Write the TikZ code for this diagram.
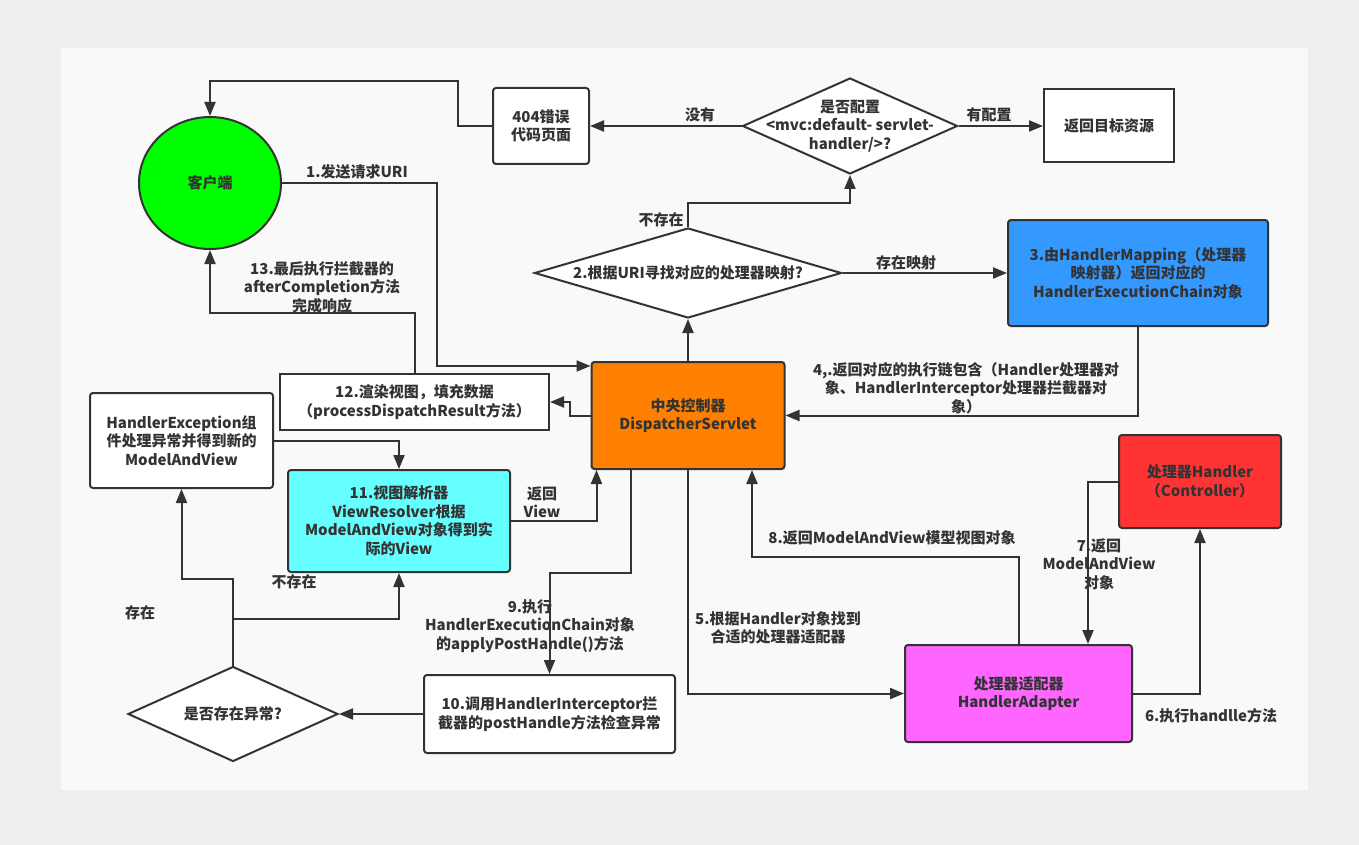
\documentclass[tikz,border=0pt]{standalone}
\usepackage{fontspec}
\setmainfont{Noto Sans CJK SC}
\usetikzlibrary{arrows.meta,calc,shapes.geometric}
\definecolor{ink}{HTML}{333333}
\definecolor{page}{HTML}{EEEEEE}
\definecolor{panel}{HTML}{F9F9F9}
\definecolor{cgreen}{HTML}{00FF00}
\definecolor{cblue}{HTML}{3399FF}
\definecolor{corange}{HTML}{FF8000}
\definecolor{ccyan}{HTML}{66FFFF}
\definecolor{cpink}{HTML}{FF66FF}
\definecolor{cred}{HTML}{FF3333}
\tikzset{
  txt/.style={font=\fontsize{15}{18.5}\selectfont\bfseries,text=ink,align=center,inner sep=0pt},
  box/.style={draw=ink,fill=#1,line width=2pt,rounded corners=3pt,txt},
  box/.default=white,
  sqbox/.style={draw=ink,fill=white,line width=2pt,txt},
  decision/.style={diamond,draw=ink,fill=white,line width=2pt,inner sep=0pt},
  flow/.style={-{Triangle[length=14pt,width=11pt]},line width=2pt,draw=ink},
  lbl/.style={txt}
}
\begin{document}
\begin{tikzpicture}[x=1pt,y=-1pt]
    \useasboundingbox (0,0) rectangle (1359,845);
    \fill[page] (0,0) rectangle (1359,845);
    \fill[panel] (61,48) rectangle (1308,790);

    \node[ellipse,draw=ink,fill=cgreen,line width=2pt,txt,minimum width=142,minimum height=132] (client) at (210,183) {客户端};
    \node[box,minimum width=96,minimum height=76] (e404) at (541,126) {404错误\\代码页面};
    \node[decision,minimum width=215,minimum height=96] (cfg) at (850,126) {};
    \node[txt] (cfgtext) at (cfg) {是否配置\\<mvc:default- servlet-\\handler/>?};
    \node[sqbox,minimum width=130,minimum height=73] (target) at (1109,126) {返回目标资源};
    \node[decision,minimum width=307,minimum height=90] (map) at (688,273) {};
    \node[txt] (maptext) at (map) {2.根据URI寻找对应的处理器映射?};
    \node[box=cblue,minimum width=260,minimum height=106] (mapping) at (1138,273) {3.由HandlerMapping（处理器\\映射器）返回对应的\\HandlerExecutionChain对象};
    \node[box=corange,minimum width=193,minimum height=107] (disp) at (688,415.5) {中央控制器\\DispatcherServlet};
    \node[sqbox,minimum width=269,minimum height=56] (render) at (414.5,402) {12.渲染视图，填充数据\\（processDispatchResult方法）};
    \node[box,minimum width=183,minimum height=95] (hexc) at (181.5,440.5) {HandlerException组\\件处理异常并得到新的\\ModelAndView};
    \node[box=ccyan,minimum width=222,minimum height=102] (resolver) at (399,521) {11.视图解析器\\ViewResolver根据\\ModelAndView对象得到实\\际的View};
    \node[decision,minimum width=210,minimum height=95] (excdec) at (233,714) {};
    \node[txt] (exctext) at (excdec) {是否存在异常?};
    \node[box,minimum width=251,minimum height=78] (post) at (549.5,714) {10.调用HandlerInterceptor拦\\截器的postHandle方法检查异常};
    \node[box=cpink,minimum width=227,minimum height=97] (adapter) at (1018.5,693.5) {处理器适配器\\HandlerAdapter};
    \node[box=cred,minimum width=162,minimum height=93] (handler) at (1200,481.5) {处理器Handler\\（Controller）};

    \coordinate (k1) at (437,366);
    \coordinate (k9) at ($(disp.south)+(-57.5,103)$);
    \coordinate (k8) at ($(disp.south)+(64,87)$);
    \coordinate (split) at ($(excdec.north)+(0,-47)$);

    \draw[flow] (client.east) -| (k1) -- (k1 -| disp.west);
    \draw[flow] (disp.north) -- (map.south);
    \draw[flow] (map.east) -- (map.east -| mapping.west);
    \draw[flow] (mapping.south) |- (disp.east);
    \draw[flow] (map.north) |- ($(cfg.south)+(0,28)$) -- (cfg.south);
    \draw[flow] (cfg.west) -- (e404.east);
    \draw[flow] (cfg.east) -- (target.west);
    \draw[flow] (e404.west) -- ++(-34,0) |- ($(client.north)+(0,-35)$) -- (client.north);
    \draw[flow] (render.north) |- ($(client.south)+(0,63)$) -- (client.south);
    \draw[flow] (disp.west) -- ++(-21,0) |- (render.east);
    \draw[flow] (hexc.east) -| (resolver.north);
    \draw[flow] (resolver.east) -| ($(disp.south west)+(6,0)$);
    \draw[flow] (excdec.north) |- ($(hexc.south)+(0,90)$) -- (hexc.south);
    \draw[flow] (split) -| (resolver.south);
    \draw[flow] (post.west) -- (excdec.east);
    \draw[flow] (disp.south -| k9) -- (k9) -| (post.north);
    \draw[flow] (disp.south) |- (adapter.west);
    \draw[flow] (adapter.north) |- (k8) -- (k8 |- disp.south);
    \draw[flow] (adapter.east) -| (handler.south);
    \draw[flow] (handler.west) -| ($(adapter.north east)+(-45,0)$);

    \node[lbl] (l1) at (357,172) {1.发送请求URI};
    \node[lbl] (lno) at (700,115) {没有};
    \node[lbl] (lyes) at (989,115) {有配置};
    \node[lbl] (lnomap) at (661,220) {不存在};
    \node[lbl] (lmap) at (906,263) {存在映射};
    \node[lbl] (l4) at (966,388) {4,.返回对应的执行链包含（Handler处理器对\\象、HandlerInterceptor处理器拦截器对\\象）};
    \node[lbl] (l13) at (322,287) {13.最后执行拦截器的\\afterCompletion方法\\完成响应};
    \node[lbl] (lview) at (542,502) {返回\\View};
    \node[lbl] (l9) at (530,626) {9.执行\\HandlerExecutionChain对象\\的applyPostHandle()方法};
    \node[lbl] (l5) at (778,628) {5.根据Handler对象找到\\合适的处理器适配器};
    \node[lbl] (l8) at (892,538) {8.返回ModelAndView模型视图对象};
    \node[lbl] (l7) at (1099,564) {7.返回\\ModelAndView\\对象};
    \node[lbl] (l6) at (1211,716) {6.执行handlle方法};
    \node[lbl] (lhave) at (140,613) {存在};
    \node[lbl] (lnot) at (294,582) {不存在};
  \end{tikzpicture}
\end{document}
